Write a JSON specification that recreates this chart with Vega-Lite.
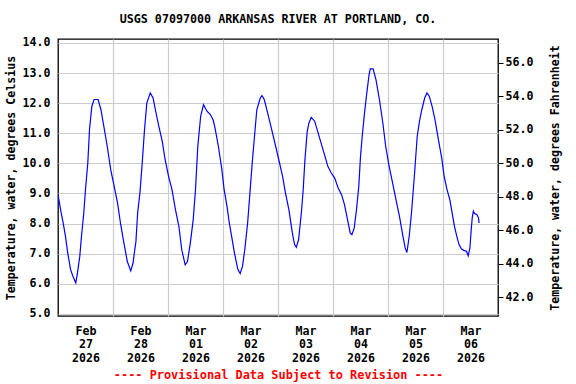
{
  "$schema": "https://vega.github.io/schema/vega-lite/v6.json",
  "autosize": {"type": "none"},
  "width": 440,
  "height": 277,
  "padding": {"left": 58, "top": 39, "right": 78, "bottom": 68},
  "background": "white",
  "title": {
    "text": "USGS 07097000 ARKANSAS RIVER AT PORTLAND, CO.",
    "font": "DejaVu Sans Mono",
    "fontSize": 11.7,
    "fontWeight": "bold",
    "color": "black",
    "anchor": "middle",
    "offset": 11
  },
  "config": {
    "view": {"stroke": "black", "strokeWidth": 1.3},
    "axis": {
      "labelFont": "DejaVu Sans Mono",
      "labelFontWeight": "bold",
      "labelFontSize": 11.6,
      "labelColor": "black",
      "titleFont": "DejaVu Sans Mono",
      "titleFontWeight": "bold",
      "titleFontSize": 11.6,
      "titleColor": "black",
      "gridColor": "#cccccc",
      "gridWidth": 1.2,
      "gridOpacity": 1
    }
  },
  "data": {
    "values": [
      {"t": "2026-02-27T00:00", "c": 8.96},
      {"t": "2026-02-27T01:15", "c": 8.41},
      {"t": "2026-02-27T02:15", "c": 8.02},
      {"t": "2026-02-27T03:15", "c": 7.58},
      {"t": "2026-02-27T04:15", "c": 7.02},
      {"t": "2026-02-27T05:30", "c": 6.47},
      {"t": "2026-02-27T06:30", "c": 6.25},
      {"t": "2026-02-27T07:45", "c": 6.03},
      {"t": "2026-02-27T08:30", "c": 6.36},
      {"t": "2026-02-27T09:30", "c": 6.91},
      {"t": "2026-02-27T10:15", "c": 7.58},
      {"t": "2026-02-27T11:15", "c": 8.35},
      {"t": "2026-02-27T12:00", "c": 9.13},
      {"t": "2026-02-27T13:00", "c": 10.01},
      {"t": "2026-02-27T13:45", "c": 11.12},
      {"t": "2026-02-27T14:45", "c": 11.89},
      {"t": "2026-02-27T15:45", "c": 12.12},
      {"t": "2026-02-27T17:30", "c": 12.12},
      {"t": "2026-02-27T18:45", "c": 11.78},
      {"t": "2026-02-27T20:00", "c": 11.23},
      {"t": "2026-02-27T21:30", "c": 10.56},
      {"t": "2026-02-27T23:00", "c": 9.79},
      {"t": "2026-02-28T00:30", "c": 9.24},
      {"t": "2026-02-28T02:00", "c": 8.68},
      {"t": "2026-02-28T03:15", "c": 8.02},
      {"t": "2026-02-28T04:45", "c": 7.36},
      {"t": "2026-02-28T06:15", "c": 6.74},
      {"t": "2026-02-28T07:45", "c": 6.43},
      {"t": "2026-02-28T08:45", "c": 6.69},
      {"t": "2026-02-28T09:30", "c": 7.13},
      {"t": "2026-02-28T10:00", "c": 7.4},
      {"t": "2026-02-28T10:45", "c": 8.35},
      {"t": "2026-02-28T11:45", "c": 9.02},
      {"t": "2026-02-28T12:45", "c": 10.01},
      {"t": "2026-02-28T13:45", "c": 11.12},
      {"t": "2026-02-28T14:45", "c": 12.0},
      {"t": "2026-02-28T16:15", "c": 12.34},
      {"t": "2026-02-28T17:30", "c": 12.17},
      {"t": "2026-02-28T18:30", "c": 11.78},
      {"t": "2026-02-28T20:00", "c": 11.23},
      {"t": "2026-02-28T21:30", "c": 10.73},
      {"t": "2026-02-28T22:45", "c": 10.12},
      {"t": "2026-03-01T00:15", "c": 9.57},
      {"t": "2026-03-01T01:45", "c": 9.13},
      {"t": "2026-03-01T03:15", "c": 8.46},
      {"t": "2026-03-01T04:45", "c": 7.91},
      {"t": "2026-03-01T06:00", "c": 7.13},
      {"t": "2026-03-01T07:30", "c": 6.63},
      {"t": "2026-03-01T08:30", "c": 6.74},
      {"t": "2026-03-01T09:45", "c": 7.36},
      {"t": "2026-03-01T11:00", "c": 8.13},
      {"t": "2026-03-01T12:00", "c": 9.13},
      {"t": "2026-03-01T13:00", "c": 10.56},
      {"t": "2026-03-01T14:15", "c": 11.56},
      {"t": "2026-03-01T15:30", "c": 11.95},
      {"t": "2026-03-01T17:00", "c": 11.73},
      {"t": "2026-03-01T18:30", "c": 11.62},
      {"t": "2026-03-01T19:45", "c": 11.43},
      {"t": "2026-03-01T20:30", "c": 11.18},
      {"t": "2026-03-01T22:00", "c": 10.56},
      {"t": "2026-03-01T23:30", "c": 9.79},
      {"t": "2026-03-02T00:30", "c": 9.13},
      {"t": "2026-03-02T01:45", "c": 8.57},
      {"t": "2026-03-02T02:45", "c": 8.02},
      {"t": "2026-03-02T03:45", "c": 7.58},
      {"t": "2026-03-02T05:00", "c": 7.02},
      {"t": "2026-03-02T06:30", "c": 6.47},
      {"t": "2026-03-02T07:30", "c": 6.34},
      {"t": "2026-03-02T08:30", "c": 6.58},
      {"t": "2026-03-02T09:30", "c": 7.13},
      {"t": "2026-03-02T10:45", "c": 8.02},
      {"t": "2026-03-02T11:45", "c": 9.02},
      {"t": "2026-03-02T12:45", "c": 10.01},
      {"t": "2026-03-02T13:45", "c": 10.9},
      {"t": "2026-03-02T14:45", "c": 11.78},
      {"t": "2026-03-02T16:15", "c": 12.17},
      {"t": "2026-03-02T17:00", "c": 12.25},
      {"t": "2026-03-02T18:00", "c": 12.12},
      {"t": "2026-03-02T19:30", "c": 11.67},
      {"t": "2026-03-02T21:15", "c": 11.12},
      {"t": "2026-03-02T23:00", "c": 10.56},
      {"t": "2026-03-03T00:30", "c": 10.07},
      {"t": "2026-03-03T02:00", "c": 9.57},
      {"t": "2026-03-03T03:15", "c": 9.02},
      {"t": "2026-03-03T04:45", "c": 8.46},
      {"t": "2026-03-03T05:45", "c": 7.95},
      {"t": "2026-03-03T06:15", "c": 7.69},
      {"t": "2026-03-03T07:15", "c": 7.3},
      {"t": "2026-03-03T08:00", "c": 7.21},
      {"t": "2026-03-03T09:00", "c": 7.47},
      {"t": "2026-03-03T10:15", "c": 8.41},
      {"t": "2026-03-03T11:00", "c": 9.13},
      {"t": "2026-03-03T11:45", "c": 10.12},
      {"t": "2026-03-03T12:45", "c": 11.06},
      {"t": "2026-03-03T13:30", "c": 11.34},
      {"t": "2026-03-03T14:30", "c": 11.53},
      {"t": "2026-03-03T16:00", "c": 11.4},
      {"t": "2026-03-03T17:30", "c": 11.01},
      {"t": "2026-03-03T19:00", "c": 10.62},
      {"t": "2026-03-03T20:30", "c": 10.23},
      {"t": "2026-03-03T21:45", "c": 9.9},
      {"t": "2026-03-03T23:15", "c": 9.68},
      {"t": "2026-03-04T00:45", "c": 9.51},
      {"t": "2026-03-04T02:15", "c": 9.18},
      {"t": "2026-03-04T03:45", "c": 8.96},
      {"t": "2026-03-04T05:00", "c": 8.63},
      {"t": "2026-03-04T06:30", "c": 8.07},
      {"t": "2026-03-04T07:30", "c": 7.69},
      {"t": "2026-03-04T08:15", "c": 7.63},
      {"t": "2026-03-04T09:15", "c": 7.85},
      {"t": "2026-03-04T10:15", "c": 8.46},
      {"t": "2026-03-04T11:15", "c": 9.24},
      {"t": "2026-03-04T12:00", "c": 10.23},
      {"t": "2026-03-04T12:45", "c": 10.9},
      {"t": "2026-03-04T13:45", "c": 11.67},
      {"t": "2026-03-04T14:45", "c": 12.34},
      {"t": "2026-03-04T15:45", "c": 12.95},
      {"t": "2026-03-04T16:15", "c": 13.14},
      {"t": "2026-03-04T17:30", "c": 13.14},
      {"t": "2026-03-04T18:45", "c": 12.78},
      {"t": "2026-03-04T20:15", "c": 12.12},
      {"t": "2026-03-04T21:45", "c": 11.34},
      {"t": "2026-03-04T23:00", "c": 10.56},
      {"t": "2026-03-05T00:30", "c": 9.9},
      {"t": "2026-03-05T02:00", "c": 9.35},
      {"t": "2026-03-05T03:30", "c": 8.79},
      {"t": "2026-03-05T05:00", "c": 8.24},
      {"t": "2026-03-05T06:30", "c": 7.58},
      {"t": "2026-03-05T07:30", "c": 7.19},
      {"t": "2026-03-05T08:15", "c": 7.04},
      {"t": "2026-03-05T09:15", "c": 7.58},
      {"t": "2026-03-05T10:15", "c": 8.35},
      {"t": "2026-03-05T11:30", "c": 9.57},
      {"t": "2026-03-05T12:45", "c": 10.9},
      {"t": "2026-03-05T13:45", "c": 11.4},
      {"t": "2026-03-05T14:45", "c": 11.78},
      {"t": "2026-03-05T16:00", "c": 12.17},
      {"t": "2026-03-05T17:00", "c": 12.34},
      {"t": "2026-03-05T18:00", "c": 12.23},
      {"t": "2026-03-05T19:15", "c": 11.89},
      {"t": "2026-03-05T20:30", "c": 11.45},
      {"t": "2026-03-05T22:00", "c": 10.79},
      {"t": "2026-03-05T23:30", "c": 10.15},
      {"t": "2026-03-06T00:30", "c": 9.57},
      {"t": "2026-03-06T01:45", "c": 9.13},
      {"t": "2026-03-06T03:00", "c": 8.79},
      {"t": "2026-03-06T04:00", "c": 8.35},
      {"t": "2026-03-06T05:00", "c": 7.91},
      {"t": "2026-03-06T06:00", "c": 7.58},
      {"t": "2026-03-06T07:00", "c": 7.3},
      {"t": "2026-03-06T08:00", "c": 7.16},
      {"t": "2026-03-06T09:00", "c": 7.11},
      {"t": "2026-03-06T10:15", "c": 7.08},
      {"t": "2026-03-06T11:00", "c": 6.93},
      {"t": "2026-03-06T11:45", "c": 7.19},
      {"t": "2026-03-06T12:15", "c": 7.74},
      {"t": "2026-03-06T12:45", "c": 8.19},
      {"t": "2026-03-06T13:15", "c": 8.41},
      {"t": "2026-03-06T13:45", "c": 8.33},
      {"t": "2026-03-06T14:45", "c": 8.3},
      {"t": "2026-03-06T15:30", "c": 8.19},
      {"t": "2026-03-06T15:45", "c": 8.02}
    ]
  },
  "layer": [
    {
      "mark": {"type": "line", "color": "#0000ff", "strokeWidth": 1.2, "clip": true},
      "encoding": {
        "x": {
          "field": "t",
          "type": "temporal",
          "scale": {"domain": [{"year": 2026, "month": 2, "date": 27}, {"year": 2026, "month": 3, "date": 7}]},
          "axis": {
            "orient": "bottom",
            "values": [
              {"year": 2026, "month": 2, "date": 28},
              {"year": 2026, "month": 3, "date": 1},
              {"year": 2026, "month": 3, "date": 2},
              {"year": 2026, "month": 3, "date": 3},
              {"year": 2026, "month": 3, "date": 4},
              {"year": 2026, "month": 3, "date": 5},
              {"year": 2026, "month": 3, "date": 6}
            ],
            "grid": true,
            "labels": false,
            "ticks": false,
            "domain": false,
            "title": null
          }
        },
        "y": {
          "field": "c",
          "type": "quantitative",
          "scale": {"domain": [4.93, 14.13], "nice": false, "zero": false},
          "axis": {
            "orient": "left",
            "values": [5, 6, 7, 8, 9, 10, 11, 12, 13, 14],
            "format": ".1f",
            "grid": true,
            "ticks": false,
            "tickSize": 0,
            "domain": false,
            "labelPadding": 8,
            "title": "Temperature, water, degrees Celsius",
            "titlePadding": 6
          }
        }
      }
    },
    {
      "mark": {"type": "line", "opacity": 0, "clip": true},
      "encoding": {
        "x": {
          "field": "t",
          "type": "temporal",
          "axis": {
            "orient": "bottom",
            "values": [
              {"year": 2026, "month": 2, "date": 27, "hours": 12},
              {"year": 2026, "month": 2, "date": 28, "hours": 12},
              {"year": 2026, "month": 3, "date": 1, "hours": 12},
              {"year": 2026, "month": 3, "date": 2, "hours": 12},
              {"year": 2026, "month": 3, "date": 3, "hours": 12},
              {"year": 2026, "month": 3, "date": 4, "hours": 12},
              {"year": 2026, "month": 3, "date": 5, "hours": 12},
              {"year": 2026, "month": 3, "date": 6, "hours": 12}
            ],
            "labelExpr": "[timeFormat(datum.value, '%b'), timeFormat(datum.value, '%d'), timeFormat(datum.value, '%Y')]",
            "labelLineHeight": 13.5,
            "labelPadding": 9,
            "grid": false,
            "ticks": false,
            "tickSize": 0,
            "domain": false,
            "title": "---- Provisional Data Subject to Revision ----",
            "titleColor": "#ff0000",
            "titleFontSize": 11.9,
            "titlePadding": 6
          }
        },
        "y": {
          "field": "c",
          "type": "quantitative",
          "scale": {"domain": [40.87, 57.43], "nice": false, "zero": false},
          "axis": {
            "orient": "right",
            "values": [42, 44, 46, 48, 50, 52, 54, 56],
            "format": ".1f",
            "grid": false,
            "ticks": true,
            "tickSize": 5,
            "tickColor": "black",
            "domain": false,
            "labelPadding": 2,
            "title": "Temperature, water, degrees Fahrenheit",
            "titleAngle": 270,
            "titlePadding": 28
          }
        }
      }
    }
  ],
  "resolve": {"scale": {"y": "independent"}, "axis": {"x": "independent"}}
}
